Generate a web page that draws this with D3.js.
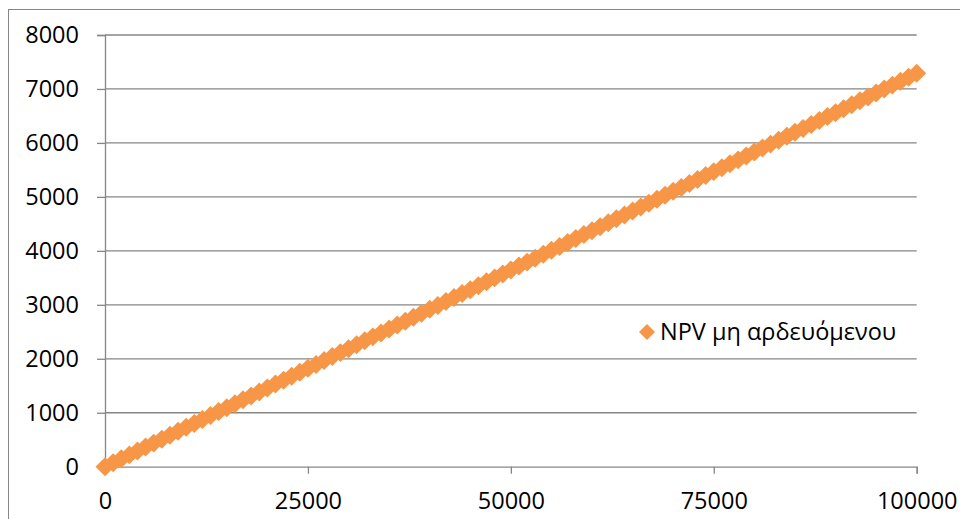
<!DOCTYPE html>
<html>
<head>
<meta charset="utf-8">
<script src="https://cdn.jsdelivr.net/npm/d3@7"></script>
<style>
  html, body { margin: 0; padding: 0; background: #ffffff; }
  svg { display: block; }
  text { font-family: "Open Sans", "Liberation Sans", sans-serif; fill: #000; }
</style>
</head>
<body>
<svg id="chart" width="960" height="519"></svg>
<script>
// Area in m² (step 1000) and the corresponding NPV of the non-irrigated crop
const areas = [
  0, 1000, 2000, 3000, 4000, 5000, 6000, 7000, 8000, 9000,
  10000, 11000, 12000, 13000, 14000, 15000, 16000, 17000, 18000, 19000,
  20000, 21000, 22000, 23000, 24000, 25000, 26000, 27000, 28000, 29000,
  30000, 31000, 32000, 33000, 34000, 35000, 36000, 37000, 38000, 39000,
  40000, 41000, 42000, 43000, 44000, 45000, 46000, 47000, 48000, 49000,
  50000, 51000, 52000, 53000, 54000, 55000, 56000, 57000, 58000, 59000,
  60000, 61000, 62000, 63000, 64000, 65000, 66000, 67000, 68000, 69000,
  70000, 71000, 72000, 73000, 74000, 75000, 76000, 77000, 78000, 79000,
  80000, 81000, 82000, 83000, 84000, 85000, 86000, 87000, 88000, 89000,
  90000, 91000, 92000, 93000, 94000, 95000, 96000, 97000, 98000, 99000,
  100000
];
const npvValues = [
  0, 73, 146, 219, 292, 365, 437, 510, 583, 656,
  729, 802, 875, 948, 1021, 1094, 1166, 1239, 1312, 1385,
  1458, 1531, 1604, 1677, 1750, 1823, 1895, 1968, 2041, 2114,
  2187, 2260, 2333, 2406, 2479, 2552, 2624, 2697, 2770, 2843,
  2916, 2989, 3062, 3135, 3208, 3281, 3353, 3426, 3499, 3572,
  3645, 3718, 3791, 3864, 3937, 4010, 4082, 4155, 4228, 4301,
  4374, 4447, 4520, 4593, 4666, 4739, 4811, 4884, 4957, 5030,
  5103, 5176, 5249, 5322, 5395, 5468, 5540, 5613, 5686, 5759,
  5832, 5905, 5978, 6051, 6124, 6197, 6269, 6342, 6415, 6488,
  6561, 6634, 6707, 6780, 6853, 6926, 6998, 7071, 7144, 7217,
  7290
];
const xTicks = [0, 25000, 50000, 75000, 100000];
const yTicks = [0, 1000, 2000, 3000, 4000, 5000, 6000, 7000, 8000];
const seriesName = "NPV μη αρδευόμενου";

const svg = d3.select("#chart");
const gridColor = "#868686";
const markerColor = "#F79646";

// plot area
const plotLeft = 105, plotRight = 916.7, plotTop = 35, plotBottom = 466.7;

const x = d3.scaleLinear().domain([0, 100000]).range([plotLeft, plotRight]);
const y = d3.scaleLinear().domain([0, 8000]).range([plotBottom, plotTop]);

// chart frame
svg.append("rect")
  .attr("x", 8.5).attr("y", 9.5)
  .attr("width", 1000).attr("height", 1000)
  .attr("fill", "none").attr("stroke", gridColor).attr("stroke-width", 1);

// horizontal gridlines
svg.append("g")
  .selectAll("line")
  .data(yTicks.filter(d => d !== 0))
  .join("line")
  .attr("x1", plotLeft).attr("x2", plotRight)
  .attr("y1", d => y(d)).attr("y2", d => y(d))
  .attr("stroke", gridColor).attr("stroke-width", 1.3);

// y axis
const yAxis = svg.append("g")
  .attr("transform", `translate(${plotLeft},0)`)
  .call(d3.axisLeft(y).tickValues(yTicks).tickSize(8).tickPadding(18).tickFormat(d3.format("d")));
yAxis.select(".domain").attr("stroke", gridColor).attr("stroke-width", 1.3);
yAxis.selectAll(".tick line").attr("stroke", gridColor).attr("stroke-width", 1.3);
yAxis.selectAll(".tick text").attr("font-size", 23.5).attr("font-family", "Open Sans, sans-serif").attr("fill", "#000");

// x axis
const xAxis = svg.append("g")
  .attr("transform", `translate(0,${plotBottom})`)
  .call(d3.axisBottom(x).tickValues(xTicks).tickSize(7).tickPadding(19).tickFormat(d3.format("d")));
xAxis.select(".domain").attr("stroke", gridColor).attr("stroke-width", 1.3);
xAxis.selectAll(".tick line").attr("stroke", gridColor).attr("stroke-width", 1.3);
xAxis.selectAll(".tick text").attr("font-size", 23.5).attr("font-family", "Open Sans, sans-serif").attr("fill", "#000");

// diamond markers (square rotated by 45 degrees)
const diamond = d3.symbol().type(d3.symbolSquare).size(180);
svg.append("g")
  .selectAll("path")
  .data(areas.map((a, i) => ({ a, v: npvValues[i] })))
  .join("path")
  .attr("d", diamond)
  .attr("transform", d => `translate(${x(d.a)},${y(d.v)}) rotate(45)`)
  .attr("fill", markerColor);

// legend
const legend = svg.append("g").attr("transform", "translate(647,332)");
legend.append("path")
  .attr("d", d3.symbol().type(d3.symbolSquare).size(128))
  .attr("transform", "rotate(45)")
  .attr("fill", markerColor);
legend.append("text")
  .attr("x", 13).attr("y", 0).attr("dy", "0.35em")
  .attr("font-size", 23.5)
  .text(seriesName);
</script>
</body>
</html>
